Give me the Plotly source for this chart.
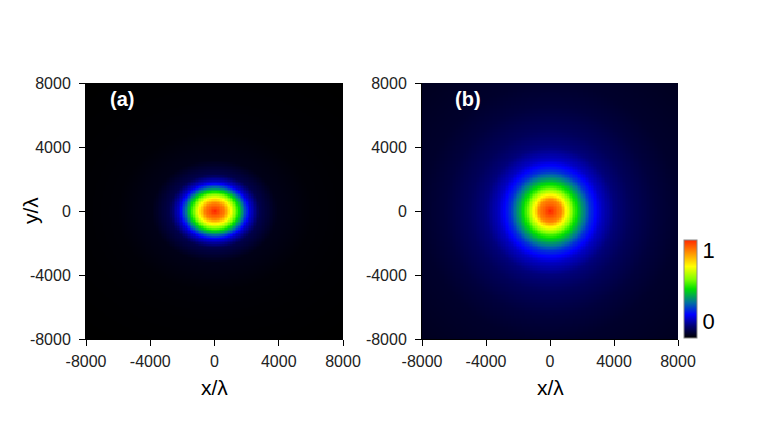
import numpy as np
import plotly.graph_objects as go

# radial intensity profiles (distance from centre in units of lambda)
r_a = [0, 600, 1000, 1500, 1900, 2200, 2800, 3900, 6000, 8000, 12000]
I_a = [1.0, 0.89, 0.73, 0.5, 0.32, 0.2, 0.08, 0.025, 0.008, 0.004, 0.0]
ratio_a = 0.82  # panel (a) is narrower along y than along x

r_b = [0, 700, 950, 1500, 2000, 2500, 3200, 4000, 5000, 6500, 8000, 12000]
I_b = [1.0, 0.88, 0.76, 0.55, 0.41, 0.29, 0.19, 0.13, 0.095, 0.065, 0.047, 0.03]
ratio_b = 1.0

grid = np.linspace(-8000, 8000, 161)
ticks = [-8000, -4000, 0, 4000, 8000]
tick_text = ["-8000", "-4000", "0", "4000", "8000"]

colors = [
    [0.0, "#000000"], [0.12, "#000070"], [0.24, "#0000ff"], [0.36, "#0070a0"],
    [0.5, "#00e000"], [0.6, "#80ff00"], [0.73, "#ffff00"], [0.87, "#ff9000"],
    [1.0, "#ff2800"],
]

# the page body has an 8px margin, so the figure is drawn 8px in from the window corner
W, H = 755, 419


def px(x):
    return (x - 8) / W


def py(y):
    return 1 - (y - 8) / H


def make_map(r, vals, ratio):
    X, Y = np.meshgrid(grid, grid)
    rr = np.hypot(X, Y / ratio)
    return np.interp(rr, r, vals)


font = "Arial, Liberation Sans, sans-serif"

fig = go.Figure()
fig.add_trace(go.Heatmap(
    x=grid, y=grid, z=make_map(r_a, I_a, ratio_a),
    colorscale=colors, zmin=0, zmax=1, showscale=False,
    xaxis="x", yaxis="y", hoverinfo="skip"
))
fig.add_trace(go.Heatmap(
    x=grid, y=grid, z=make_map(r_b, I_b, ratio_b),
    colorscale=colors, zmin=0, zmax=1,
    xaxis="x2", yaxis="y2", hoverinfo="skip",
    colorbar=dict(
        x=px(684), xanchor="left", xpad=0,
        y=py(338), yanchor="bottom", ypad=0,
        len=98, lenmode="pixels", thickness=13,
        outlinecolor="#888888", outlinewidth=1,
        tickvals=[0.17, 0.9], ticktext=["0", "1"], ticks="",
        tickfont=dict(size=22, color="black", family=font),
    ),
))

axis_style = dict(
    range=[-8000, 8000], tickvals=ticks, ticktext=tick_text,
    ticks="outside", ticklen=6, tickcolor="black", tickwidth=1,
    showline=True, linecolor="black", linewidth=1,
    showgrid=False, zeroline=False, automargin=False,
    tickfont=dict(size=16, color="#222222", family=font),
)
xdom_a = [px(86), px(343)]
xdom_b = [px(422), px(678)]
ydom = [py(339), py(83)]

fig.update_layout(
    width=W, height=H,
    margin=dict(l=0, r=0, t=0, b=0, autoexpand=False),
    paper_bgcolor="white", plot_bgcolor="white",
    font=dict(family=font),
    xaxis=dict(domain=xdom_a, anchor="y", ticklabelstandoff=2, **axis_style),
    yaxis=dict(domain=ydom, anchor="x", ticklabelstandoff=5, **axis_style),
    xaxis2=dict(domain=xdom_b, anchor="y2", ticklabelstandoff=2, **axis_style),
    yaxis2=dict(domain=ydom, anchor="x2", ticklabelstandoff=5, **axis_style),
    showlegend=False,
)

# axis titles and panel labels
labels = [
    ("x/λ", 214, 387, 0, dict(size=21, color="black")),
    ("x/λ", 550, 387, 0, dict(size=21, color="black")),
    ("y/λ", 31, 211, -90, dict(size=21, color="black")),
    ("<b>(a)</b>", 122, 99, 0, dict(size=20, color="white")),
    ("<b>(b)</b>", 468, 99, 0, dict(size=20, color="white")),
]
for text, x, y, angle, f in labels:
    fig.add_annotation(text=text, x=px(x), y=py(y), xref="paper", yref="paper",
                       xanchor="center", yanchor="middle", textangle=angle,
                       showarrow=False, font=f)

fig.write_html("out.html")
